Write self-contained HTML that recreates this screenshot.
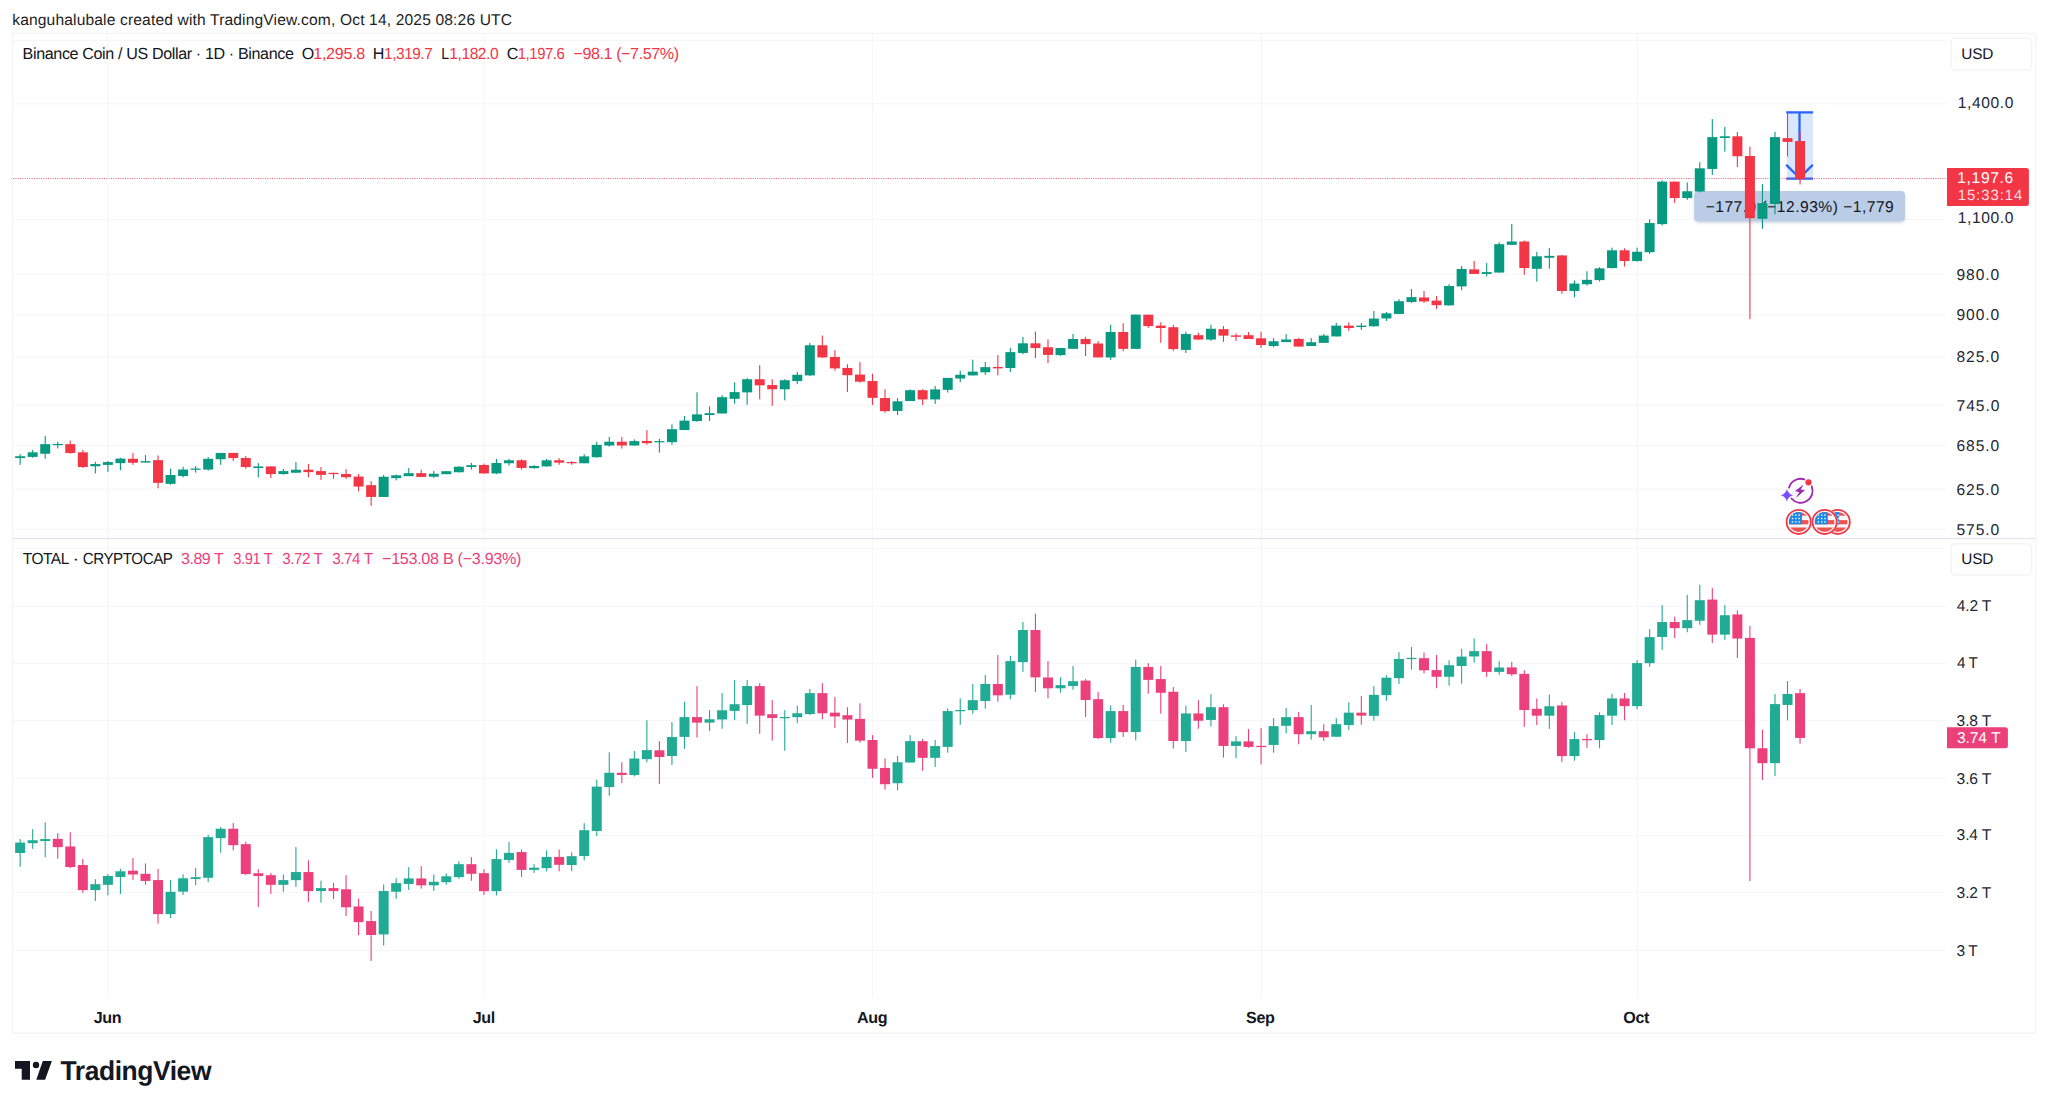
<!DOCTYPE html>
<html><head><meta charset="utf-8"><title>BNBUSD chart</title>
<style>
html,body{margin:0;padding:0;background:#fff;}
body{width:2048px;height:1108px;position:relative;overflow:hidden;font-family:"Liberation Sans",sans-serif;}
svg{position:absolute;left:0;top:0;}
</style></head><body>
<svg width="2048" height="1108" viewBox="0 0 2048 1108">
<rect x="12.4" y="33.4" width="2023.3" height="999.8" fill="#fff" stroke="#f5f5f6" stroke-width="1.5"/>
<rect x="13" y="39.9" width="1933" height="1" fill="#f6f6f7"/>
<rect x="13" y="103.2" width="1933" height="1" fill="#f6f6f7"/>
<rect x="13" y="219.0" width="1933" height="1" fill="#f6f6f7"/>
<rect x="13" y="273.8" width="1933" height="1" fill="#f6f6f7"/>
<rect x="13" y="314.7" width="1933" height="1" fill="#f6f6f7"/>
<rect x="13" y="356.3" width="1933" height="1" fill="#f6f6f7"/>
<rect x="13" y="404.8" width="1933" height="1" fill="#f6f6f7"/>
<rect x="13" y="445.1" width="1933" height="1" fill="#f6f6f7"/>
<rect x="13" y="488.7" width="1933" height="1" fill="#f6f6f7"/>
<rect x="13" y="528.8" width="1933" height="1" fill="#f6f6f7"/>
<rect x="13" y="548.0" width="1933" height="1" fill="#f6f6f7"/>
<rect x="13" y="606.0" width="1933" height="1" fill="#f6f6f7"/>
<rect x="13" y="663.0" width="1933" height="1" fill="#f6f6f7"/>
<rect x="13" y="719.9" width="1933" height="1" fill="#f6f6f7"/>
<rect x="13" y="777.8" width="1933" height="1" fill="#f6f6f7"/>
<rect x="13" y="835.0" width="1933" height="1" fill="#f6f6f7"/>
<rect x="13" y="892.0" width="1933" height="1" fill="#f6f6f7"/>
<rect x="13" y="949.9" width="1933" height="1" fill="#f6f6f7"/>
<rect x="107.0" y="34" width="1" height="504" fill="#f6f6f7"/>
<rect x="483.4" y="34" width="1" height="504" fill="#f6f6f7"/>
<rect x="872.0" y="34" width="1" height="504" fill="#f6f6f7"/>
<rect x="1260.9" y="34" width="1" height="504" fill="#f6f6f7"/>
<rect x="1636.8" y="34" width="1" height="504" fill="#f6f6f7"/>
<rect x="107.0" y="539" width="1" height="459.5" fill="#f6f6f7"/>
<rect x="483.4" y="539" width="1" height="459.5" fill="#f6f6f7"/>
<rect x="872.0" y="539" width="1" height="459.5" fill="#f6f6f7"/>
<rect x="1260.9" y="539" width="1" height="459.5" fill="#f6f6f7"/>
<rect x="1636.8" y="539" width="1" height="459.5" fill="#f6f6f7"/>
<rect x="13" y="537.9" width="2022" height="1.2" fill="#e1e4ee"/>
<defs><filter id="sh" x="-10%" y="-30%" width="120%" height="170%"><feGaussianBlur stdDeviation="1.6"/></filter></defs>
<rect x="1694.6" y="192.4" width="210" height="30" rx="4" fill="#5f7698" fill-opacity="0.35" filter="url(#sh)"/>
<rect x="1694.2" y="190.9" width="210.8" height="30.4" rx="4" fill="#bbcde6"/>
<g font-family="Liberation Sans, sans-serif" text-rendering="geometricPrecision" style="white-space:pre"><text id="meas" x="1705.64" y="212.00" font-size="15.6" letter-spacing="0.494" fill="#131722">−177.9 (−12.93%) −1,779</text></g>
<rect x="1787" y="112" width="26" height="67" fill="#d9e7fc"/><g stroke="#2962ff" stroke-width="2.3" fill="none"><path d="M1786.2 112.3H1813.1M1786.2 178.7H1813.1M1799.5 112.3V178"/><path d="M1786.8 165.4L1799.5 178L1812.2 165.4" stroke-linecap="round" stroke-linejoin="miter"/></g>
<line x1="13" y1="178.5" x2="1947" y2="178.5" stroke="#f23645" stroke-width="1" stroke-opacity="0.8" stroke-dasharray="1 1.333"/>
<g shape-rendering="auto">
<rect x="19.60" y="454.10" width="1.1" height="10.74" fill="#089981"/>
<rect x="15.15" y="456.25" width="10.0" height="1.81" fill="#089981"/>
<rect x="32.13" y="450.00" width="1.1" height="7.81" fill="#089981"/>
<rect x="27.68" y="452.34" width="10.0" height="4.55" fill="#089981"/>
<rect x="44.67" y="435.94" width="1.1" height="22.66" fill="#089981"/>
<rect x="40.22" y="444.14" width="10.0" height="9.62" fill="#089981"/>
<rect x="57.20" y="441.80" width="1.1" height="6.64" fill="#089981"/>
<rect x="52.75" y="443.93" width="10.0" height="1.25" fill="#089981"/>
<rect x="69.74" y="440.62" width="1.1" height="13.09" fill="#f23645"/>
<rect x="65.29" y="444.14" width="10.0" height="8.84" fill="#f23645"/>
<rect x="82.27" y="450.00" width="1.1" height="17.97" fill="#f23645"/>
<rect x="77.82" y="452.34" width="10.0" height="14.70" fill="#f23645"/>
<rect x="94.81" y="461.72" width="1.1" height="11.72" fill="#089981"/>
<rect x="90.36" y="464.06" width="10.0" height="2.20" fill="#089981"/>
<rect x="107.34" y="460.94" width="1.1" height="10.94" fill="#089981"/>
<rect x="102.89" y="462.11" width="10.0" height="2.79" fill="#089981"/>
<rect x="119.88" y="457.81" width="1.1" height="12.50" fill="#089981"/>
<rect x="115.43" y="458.59" width="10.0" height="4.55" fill="#089981"/>
<rect x="132.41" y="453.12" width="1.1" height="11.72" fill="#f23645"/>
<rect x="127.96" y="458.79" width="10.0" height="3.96" fill="#f23645"/>
<rect x="144.94" y="455.08" width="1.1" height="7.48" fill="#089981"/>
<rect x="140.50" y="461.13" width="10.0" height="1.42" fill="#089981"/>
<rect x="157.48" y="455.47" width="1.1" height="32.81" fill="#f23645"/>
<rect x="153.03" y="460.16" width="10.0" height="22.71" fill="#f23645"/>
<rect x="170.01" y="468.75" width="1.1" height="16.02" fill="#089981"/>
<rect x="165.56" y="475.00" width="10.0" height="8.84" fill="#089981"/>
<rect x="182.55" y="466.80" width="1.1" height="10.55" fill="#089981"/>
<rect x="178.10" y="469.53" width="10.0" height="6.50" fill="#089981"/>
<rect x="195.08" y="466.02" width="1.1" height="6.64" fill="#089981"/>
<rect x="190.63" y="468.54" width="10.0" height="1.25" fill="#089981"/>
<rect x="207.62" y="457.03" width="1.1" height="13.67" fill="#089981"/>
<rect x="203.17" y="458.79" width="10.0" height="10.80" fill="#089981"/>
<rect x="220.15" y="452.93" width="1.1" height="11.91" fill="#089981"/>
<rect x="215.70" y="452.93" width="10.0" height="6.30" fill="#089981"/>
<rect x="232.69" y="452.93" width="1.1" height="8.01" fill="#f23645"/>
<rect x="228.24" y="452.93" width="10.0" height="5.13" fill="#f23645"/>
<rect x="245.22" y="456.05" width="1.1" height="12.70" fill="#f23645"/>
<rect x="240.77" y="458.01" width="10.0" height="9.04" fill="#f23645"/>
<rect x="257.76" y="463.09" width="1.1" height="14.26" fill="#089981"/>
<rect x="253.31" y="466.41" width="10.0" height="1.62" fill="#089981"/>
<rect x="270.29" y="466.41" width="1.1" height="11.72" fill="#f23645"/>
<rect x="265.84" y="466.41" width="10.0" height="7.67" fill="#f23645"/>
<rect x="282.82" y="468.95" width="1.1" height="5.66" fill="#089981"/>
<rect x="278.37" y="471.09" width="10.0" height="2.98" fill="#089981"/>
<rect x="295.36" y="462.11" width="1.1" height="10.60" fill="#089981"/>
<rect x="290.91" y="469.73" width="10.0" height="2.98" fill="#089981"/>
<rect x="307.89" y="463.87" width="1.1" height="13.48" fill="#f23645"/>
<rect x="303.44" y="469.73" width="10.0" height="2.40" fill="#f23645"/>
<rect x="320.43" y="466.99" width="1.1" height="12.89" fill="#f23645"/>
<rect x="315.98" y="471.09" width="10.0" height="3.77" fill="#f23645"/>
<rect x="332.96" y="472.66" width="1.1" height="6.25" fill="#f23645"/>
<rect x="328.51" y="472.84" width="10.0" height="1.25" fill="#f23645"/>
<rect x="345.50" y="469.34" width="1.1" height="9.57" fill="#f23645"/>
<rect x="341.05" y="474.02" width="10.0" height="3.18" fill="#f23645"/>
<rect x="358.03" y="474.02" width="1.1" height="17.38" fill="#f23645"/>
<rect x="353.58" y="476.56" width="10.0" height="10.02" fill="#f23645"/>
<rect x="370.57" y="481.05" width="1.1" height="24.80" fill="#f23645"/>
<rect x="366.12" y="485.16" width="10.0" height="11.77" fill="#f23645"/>
<rect x="383.10" y="474.80" width="1.1" height="22.12" fill="#089981"/>
<rect x="378.65" y="476.76" width="10.0" height="20.17" fill="#089981"/>
<rect x="395.63" y="474.53" width="1.1" height="5.86" fill="#089981"/>
<rect x="391.18" y="475.31" width="10.0" height="2.79" fill="#089981"/>
<rect x="408.17" y="468.09" width="1.1" height="8.06" fill="#089981"/>
<rect x="403.72" y="473.16" width="10.0" height="2.98" fill="#089981"/>
<rect x="420.70" y="469.65" width="1.1" height="7.28" fill="#f23645"/>
<rect x="416.25" y="473.16" width="10.0" height="3.77" fill="#f23645"/>
<rect x="433.24" y="471.02" width="1.1" height="6.84" fill="#089981"/>
<rect x="428.79" y="473.75" width="10.0" height="2.98" fill="#089981"/>
<rect x="445.77" y="471.21" width="1.1" height="2.98" fill="#089981"/>
<rect x="441.32" y="471.21" width="10.0" height="2.98" fill="#089981"/>
<rect x="458.31" y="466.13" width="1.1" height="6.25" fill="#089981"/>
<rect x="453.86" y="466.72" width="10.0" height="5.52" fill="#089981"/>
<rect x="470.84" y="462.81" width="1.1" height="6.84" fill="#089981"/>
<rect x="466.39" y="465.16" width="10.0" height="1.81" fill="#089981"/>
<rect x="483.38" y="463.59" width="1.1" height="10.16" fill="#f23645"/>
<rect x="478.93" y="464.96" width="10.0" height="8.45" fill="#f23645"/>
<rect x="495.91" y="458.91" width="1.1" height="15.23" fill="#089981"/>
<rect x="491.46" y="463.01" width="10.0" height="10.41" fill="#089981"/>
<rect x="508.45" y="458.91" width="1.1" height="6.64" fill="#089981"/>
<rect x="504.00" y="460.27" width="10.0" height="2.98" fill="#089981"/>
<rect x="520.98" y="459.30" width="1.1" height="10.35" fill="#f23645"/>
<rect x="516.53" y="460.27" width="10.0" height="7.67" fill="#f23645"/>
<rect x="533.51" y="465.16" width="1.1" height="3.52" fill="#089981"/>
<rect x="529.06" y="465.94" width="10.0" height="2.20" fill="#089981"/>
<rect x="546.05" y="458.91" width="1.1" height="7.81" fill="#089981"/>
<rect x="541.60" y="460.27" width="10.0" height="6.11" fill="#089981"/>
<rect x="558.58" y="458.12" width="1.1" height="6.64" fill="#f23645"/>
<rect x="554.13" y="460.27" width="10.0" height="2.40" fill="#f23645"/>
<rect x="571.12" y="461.25" width="1.1" height="3.52" fill="#f23645"/>
<rect x="566.67" y="462.02" width="10.0" height="1.25" fill="#f23645"/>
<rect x="583.65" y="454.22" width="1.1" height="9.04" fill="#089981"/>
<rect x="579.20" y="456.37" width="10.0" height="6.89" fill="#089981"/>
<rect x="596.19" y="441.72" width="1.1" height="16.02" fill="#089981"/>
<rect x="591.74" y="444.84" width="10.0" height="12.36" fill="#089981"/>
<rect x="608.72" y="437.03" width="1.1" height="9.77" fill="#089981"/>
<rect x="604.27" y="441.72" width="10.0" height="3.77" fill="#089981"/>
<rect x="621.26" y="437.03" width="1.1" height="11.52" fill="#f23645"/>
<rect x="616.81" y="441.72" width="10.0" height="3.77" fill="#f23645"/>
<rect x="633.79" y="439.38" width="1.1" height="6.25" fill="#089981"/>
<rect x="629.34" y="441.13" width="10.0" height="4.35" fill="#089981"/>
<rect x="646.33" y="430.20" width="1.1" height="14.65" fill="#f23645"/>
<rect x="641.88" y="440.94" width="10.0" height="2.20" fill="#f23645"/>
<rect x="658.86" y="438.98" width="1.1" height="13.67" fill="#089981"/>
<rect x="654.41" y="441.12" width="10.0" height="1.25" fill="#089981"/>
<rect x="671.39" y="424.34" width="1.1" height="20.51" fill="#089981"/>
<rect x="666.94" y="429.22" width="10.0" height="12.95" fill="#089981"/>
<rect x="683.93" y="415.94" width="1.1" height="14.12" fill="#089981"/>
<rect x="679.48" y="420.62" width="10.0" height="9.43" fill="#089981"/>
<rect x="696.46" y="392.30" width="1.1" height="29.49" fill="#089981"/>
<rect x="692.01" y="414.38" width="10.0" height="6.70" fill="#089981"/>
<rect x="709.00" y="406.37" width="1.1" height="14.65" fill="#089981"/>
<rect x="704.55" y="413.20" width="10.0" height="1.81" fill="#089981"/>
<rect x="721.53" y="395.23" width="1.1" height="18.22" fill="#089981"/>
<rect x="717.08" y="397.19" width="10.0" height="16.27" fill="#089981"/>
<rect x="734.07" y="382.34" width="1.1" height="21.48" fill="#089981"/>
<rect x="729.62" y="392.11" width="10.0" height="6.70" fill="#089981"/>
<rect x="746.60" y="377.85" width="1.1" height="26.95" fill="#089981"/>
<rect x="742.15" y="379.22" width="10.0" height="13.14" fill="#089981"/>
<rect x="759.14" y="365.16" width="1.1" height="34.18" fill="#f23645"/>
<rect x="754.69" y="379.22" width="10.0" height="6.11" fill="#f23645"/>
<rect x="771.67" y="379.22" width="1.1" height="26.56" fill="#f23645"/>
<rect x="767.22" y="385.08" width="10.0" height="4.16" fill="#f23645"/>
<rect x="784.20" y="379.26" width="1.1" height="21.09" fill="#089981"/>
<rect x="779.75" y="380.23" width="10.0" height="9.04" fill="#089981"/>
<rect x="796.74" y="372.03" width="1.1" height="12.11" fill="#089981"/>
<rect x="792.29" y="374.77" width="10.0" height="6.30" fill="#089981"/>
<rect x="809.27" y="342.93" width="1.1" height="33.20" fill="#089981"/>
<rect x="804.82" y="345.27" width="10.0" height="30.13" fill="#089981"/>
<rect x="821.81" y="335.51" width="1.1" height="22.46" fill="#f23645"/>
<rect x="817.36" y="345.27" width="10.0" height="12.16" fill="#f23645"/>
<rect x="834.34" y="350.16" width="1.1" height="20.51" fill="#f23645"/>
<rect x="829.89" y="356.99" width="10.0" height="11.38" fill="#f23645"/>
<rect x="846.88" y="364.22" width="1.1" height="27.73" fill="#f23645"/>
<rect x="842.43" y="367.93" width="10.0" height="7.28" fill="#f23645"/>
<rect x="859.41" y="362.07" width="1.1" height="20.70" fill="#f23645"/>
<rect x="854.96" y="374.57" width="10.0" height="7.09" fill="#f23645"/>
<rect x="871.95" y="373.79" width="1.1" height="31.25" fill="#f23645"/>
<rect x="867.50" y="381.02" width="10.0" height="16.85" fill="#f23645"/>
<rect x="884.48" y="389.22" width="1.1" height="23.44" fill="#f23645"/>
<rect x="880.03" y="398.01" width="10.0" height="13.14" fill="#f23645"/>
<rect x="897.01" y="398.01" width="1.1" height="16.99" fill="#089981"/>
<rect x="892.56" y="401.33" width="10.0" height="9.62" fill="#089981"/>
<rect x="909.55" y="389.41" width="1.1" height="11.58" fill="#089981"/>
<rect x="905.10" y="390.20" width="10.0" height="10.80" fill="#089981"/>
<rect x="922.08" y="389.22" width="1.1" height="15.82" fill="#f23645"/>
<rect x="917.63" y="390.20" width="10.0" height="9.23" fill="#f23645"/>
<rect x="934.62" y="386.09" width="1.1" height="17.77" fill="#089981"/>
<rect x="930.17" y="389.41" width="10.0" height="10.02" fill="#089981"/>
<rect x="947.15" y="377.89" width="1.1" height="14.65" fill="#089981"/>
<rect x="942.70" y="377.89" width="10.0" height="11.97" fill="#089981"/>
<rect x="959.69" y="370.66" width="1.1" height="11.52" fill="#089981"/>
<rect x="955.24" y="374.77" width="10.0" height="3.77" fill="#089981"/>
<rect x="972.22" y="359.73" width="1.1" height="15.68" fill="#089981"/>
<rect x="967.77" y="371.64" width="10.0" height="3.77" fill="#089981"/>
<rect x="984.76" y="361.88" width="1.1" height="13.09" fill="#089981"/>
<rect x="980.31" y="367.15" width="10.0" height="5.13" fill="#089981"/>
<rect x="997.29" y="355.04" width="1.1" height="20.31" fill="#f23645"/>
<rect x="992.84" y="366.95" width="10.0" height="1.42" fill="#f23645"/>
<rect x="1009.83" y="347.81" width="1.1" height="24.22" fill="#089981"/>
<rect x="1005.38" y="352.11" width="10.0" height="15.88" fill="#089981"/>
<rect x="1022.36" y="336.88" width="1.1" height="17.19" fill="#089981"/>
<rect x="1017.91" y="343.32" width="10.0" height="9.62" fill="#089981"/>
<rect x="1034.89" y="331.60" width="1.1" height="26.56" fill="#f23645"/>
<rect x="1030.44" y="343.32" width="10.0" height="4.74" fill="#f23645"/>
<rect x="1047.43" y="339.41" width="1.1" height="23.63" fill="#f23645"/>
<rect x="1042.98" y="347.23" width="10.0" height="7.67" fill="#f23645"/>
<rect x="1059.96" y="348.01" width="1.1" height="7.81" fill="#089981"/>
<rect x="1055.51" y="348.01" width="10.0" height="7.09" fill="#089981"/>
<rect x="1072.50" y="333.95" width="1.1" height="14.90" fill="#089981"/>
<rect x="1068.05" y="339.02" width="10.0" height="9.82" fill="#089981"/>
<rect x="1085.03" y="336.88" width="1.1" height="19.14" fill="#f23645"/>
<rect x="1080.58" y="339.02" width="10.0" height="5.13" fill="#f23645"/>
<rect x="1097.57" y="341.17" width="1.1" height="16.27" fill="#f23645"/>
<rect x="1093.12" y="343.52" width="10.0" height="13.92" fill="#f23645"/>
<rect x="1110.10" y="324.77" width="1.1" height="35.16" fill="#089981"/>
<rect x="1105.65" y="331.99" width="10.0" height="25.45" fill="#089981"/>
<rect x="1122.64" y="323.20" width="1.1" height="27.93" fill="#f23645"/>
<rect x="1118.19" y="331.99" width="10.0" height="16.85" fill="#f23645"/>
<rect x="1135.17" y="314.61" width="1.1" height="34.23" fill="#089981"/>
<rect x="1130.72" y="314.61" width="10.0" height="34.23" fill="#089981"/>
<rect x="1147.71" y="314.69" width="1.1" height="13.09" fill="#f23645"/>
<rect x="1143.26" y="314.69" width="10.0" height="11.38" fill="#f23645"/>
<rect x="1160.24" y="322.30" width="1.1" height="20.51" fill="#f23645"/>
<rect x="1155.79" y="325.62" width="10.0" height="2.40" fill="#f23645"/>
<rect x="1172.77" y="324.84" width="1.1" height="25.98" fill="#f23645"/>
<rect x="1168.32" y="327.19" width="10.0" height="21.93" fill="#f23645"/>
<rect x="1185.31" y="331.68" width="1.1" height="21.29" fill="#089981"/>
<rect x="1180.86" y="334.02" width="10.0" height="15.88" fill="#089981"/>
<rect x="1197.84" y="332.66" width="1.1" height="7.23" fill="#f23645"/>
<rect x="1193.39" y="335.20" width="10.0" height="4.35" fill="#f23645"/>
<rect x="1210.38" y="324.84" width="1.1" height="16.02" fill="#089981"/>
<rect x="1205.93" y="328.75" width="10.0" height="10.80" fill="#089981"/>
<rect x="1222.91" y="326.02" width="1.1" height="15.82" fill="#f23645"/>
<rect x="1218.46" y="329.14" width="10.0" height="6.50" fill="#f23645"/>
<rect x="1235.45" y="333.44" width="1.1" height="7.42" fill="#f23645"/>
<rect x="1231.00" y="335.39" width="10.0" height="1.42" fill="#f23645"/>
<rect x="1247.98" y="332.07" width="1.1" height="6.89" fill="#f23645"/>
<rect x="1243.53" y="335.20" width="10.0" height="3.77" fill="#f23645"/>
<rect x="1260.52" y="331.68" width="1.1" height="16.21" fill="#f23645"/>
<rect x="1256.07" y="338.32" width="10.0" height="6.70" fill="#f23645"/>
<rect x="1273.05" y="338.12" width="1.1" height="9.18" fill="#089981"/>
<rect x="1268.60" y="341.25" width="10.0" height="4.74" fill="#089981"/>
<rect x="1285.58" y="334.02" width="1.1" height="8.06" fill="#089981"/>
<rect x="1281.13" y="339.49" width="10.0" height="2.59" fill="#089981"/>
<rect x="1298.12" y="338.12" width="1.1" height="8.45" fill="#f23645"/>
<rect x="1293.67" y="338.91" width="10.0" height="7.67" fill="#f23645"/>
<rect x="1310.65" y="338.12" width="1.1" height="8.01" fill="#089981"/>
<rect x="1306.20" y="342.23" width="10.0" height="3.77" fill="#089981"/>
<rect x="1323.19" y="334.02" width="1.1" height="8.84" fill="#089981"/>
<rect x="1318.74" y="335.59" width="10.0" height="7.28" fill="#089981"/>
<rect x="1335.72" y="322.89" width="1.1" height="13.53" fill="#089981"/>
<rect x="1331.27" y="325.62" width="10.0" height="10.80" fill="#089981"/>
<rect x="1348.26" y="322.30" width="1.1" height="8.59" fill="#f23645"/>
<rect x="1343.81" y="325.62" width="10.0" height="2.40" fill="#f23645"/>
<rect x="1360.79" y="322.89" width="1.1" height="7.03" fill="#089981"/>
<rect x="1356.34" y="325.62" width="10.0" height="1.42" fill="#089981"/>
<rect x="1373.33" y="310.98" width="1.1" height="15.82" fill="#089981"/>
<rect x="1368.88" y="318.59" width="10.0" height="7.67" fill="#089981"/>
<rect x="1385.86" y="311.95" width="1.1" height="8.98" fill="#089981"/>
<rect x="1381.41" y="313.32" width="10.0" height="5.13" fill="#089981"/>
<rect x="1398.39" y="299.06" width="1.1" height="14.90" fill="#089981"/>
<rect x="1393.94" y="301.21" width="10.0" height="12.75" fill="#089981"/>
<rect x="1410.93" y="289.10" width="1.1" height="13.67" fill="#089981"/>
<rect x="1406.48" y="297.11" width="10.0" height="4.94" fill="#089981"/>
<rect x="1423.46" y="291.05" width="1.1" height="11.72" fill="#f23645"/>
<rect x="1419.01" y="297.50" width="10.0" height="3.96" fill="#f23645"/>
<rect x="1436.00" y="295.94" width="1.1" height="13.09" fill="#f23645"/>
<rect x="1431.55" y="300.62" width="10.0" height="4.55" fill="#f23645"/>
<rect x="1448.53" y="284.22" width="1.1" height="21.48" fill="#089981"/>
<rect x="1444.08" y="285.98" width="10.0" height="19.39" fill="#089981"/>
<rect x="1461.07" y="266.05" width="1.1" height="24.22" fill="#089981"/>
<rect x="1456.62" y="268.98" width="10.0" height="17.44" fill="#089981"/>
<rect x="1473.60" y="260.98" width="1.1" height="12.95" fill="#f23645"/>
<rect x="1469.15" y="269.38" width="10.0" height="4.55" fill="#f23645"/>
<rect x="1486.14" y="262.93" width="1.1" height="13.48" fill="#089981"/>
<rect x="1481.69" y="272.11" width="10.0" height="1.81" fill="#089981"/>
<rect x="1498.67" y="242.23" width="1.1" height="30.33" fill="#089981"/>
<rect x="1494.22" y="244.18" width="10.0" height="28.38" fill="#089981"/>
<rect x="1511.21" y="224.08" width="1.1" height="20.76" fill="#089981"/>
<rect x="1506.76" y="241.51" width="10.0" height="3.33" fill="#089981"/>
<rect x="1523.74" y="240.48" width="1.1" height="34.25" fill="#f23645"/>
<rect x="1519.29" y="241.51" width="10.0" height="26.50" fill="#f23645"/>
<rect x="1536.27" y="251.76" width="1.1" height="29.94" fill="#089981"/>
<rect x="1531.82" y="256.28" width="10.0" height="12.56" fill="#089981"/>
<rect x="1548.81" y="248.07" width="1.1" height="20.71" fill="#089981"/>
<rect x="1544.36" y="255.87" width="10.0" height="1.89" fill="#089981"/>
<rect x="1561.34" y="254.84" width="1.1" height="38.97" fill="#f23645"/>
<rect x="1556.89" y="255.46" width="10.0" height="35.52" fill="#f23645"/>
<rect x="1573.88" y="280.48" width="1.1" height="16.82" fill="#089981"/>
<rect x="1569.43" y="283.55" width="10.0" height="7.43" fill="#089981"/>
<rect x="1586.41" y="271.25" width="1.1" height="14.36" fill="#089981"/>
<rect x="1581.96" y="279.86" width="10.0" height="4.35" fill="#089981"/>
<rect x="1598.95" y="267.15" width="1.1" height="14.36" fill="#089981"/>
<rect x="1594.50" y="268.38" width="10.0" height="11.73" fill="#089981"/>
<rect x="1611.48" y="247.66" width="1.1" height="20.92" fill="#089981"/>
<rect x="1607.03" y="250.33" width="10.0" height="17.68" fill="#089981"/>
<rect x="1624.02" y="248.28" width="1.1" height="18.25" fill="#f23645"/>
<rect x="1619.57" y="250.33" width="10.0" height="10.71" fill="#f23645"/>
<rect x="1636.55" y="247.66" width="1.1" height="13.95" fill="#089981"/>
<rect x="1632.10" y="251.76" width="10.0" height="9.27" fill="#089981"/>
<rect x="1649.09" y="219.36" width="1.1" height="34.45" fill="#089981"/>
<rect x="1644.63" y="223.05" width="10.0" height="29.17" fill="#089981"/>
<rect x="1661.62" y="180.39" width="1.1" height="45.12" fill="#089981"/>
<rect x="1657.17" y="181.62" width="10.0" height="42.50" fill="#089981"/>
<rect x="1674.15" y="181.62" width="1.1" height="21.33" fill="#f23645"/>
<rect x="1669.70" y="181.62" width="10.0" height="16.45" fill="#f23645"/>
<rect x="1686.69" y="182.44" width="1.1" height="17.43" fill="#089981"/>
<rect x="1682.24" y="191.26" width="10.0" height="6.81" fill="#089981"/>
<rect x="1699.22" y="162.14" width="1.1" height="30.15" fill="#089981"/>
<rect x="1694.77" y="168.29" width="10.0" height="23.22" fill="#089981"/>
<rect x="1711.76" y="119.07" width="1.1" height="55.78" fill="#089981"/>
<rect x="1707.31" y="137.12" width="10.0" height="31.83" fill="#089981"/>
<rect x="1724.29" y="126.87" width="1.1" height="24.82" fill="#089981"/>
<rect x="1719.84" y="136.30" width="10.0" height="1.69" fill="#089981"/>
<rect x="1736.83" y="131.99" width="1.1" height="35.07" fill="#f23645"/>
<rect x="1732.38" y="136.30" width="10.0" height="19.94" fill="#f23645"/>
<rect x="1749.36" y="146.55" width="1.1" height="172.48" fill="#f23645"/>
<rect x="1744.91" y="155.99" width="10.0" height="62.19" fill="#f23645"/>
<rect x="1761.90" y="184.09" width="1.1" height="44.71" fill="#089981"/>
<rect x="1757.45" y="203.16" width="10.0" height="15.63" fill="#089981"/>
<rect x="1774.43" y="131.79" width="1.1" height="82.65" fill="#089981"/>
<rect x="1769.98" y="137.12" width="10.0" height="66.90" fill="#089981"/>
<rect x="1786.96" y="112.31" width="1.1" height="44.09" fill="#f23645"/>
<rect x="1782.51" y="138.15" width="10.0" height="3.74" fill="#f23645"/>
<rect x="1799.50" y="132.20" width="1.1" height="52.30" fill="#f23645"/>
<rect x="1795.05" y="141.02" width="10.0" height="38.19" fill="#f23645"/>
</g>
<g>
<rect x="19.60" y="839.06" width="1.1" height="27.73" fill="#22ab94"/>
<rect x="15.15" y="842.58" width="10.0" height="10.41" fill="#22ab94"/>
<rect x="32.13" y="829.10" width="1.1" height="19.73" fill="#22ab94"/>
<rect x="27.68" y="840.23" width="10.0" height="2.98" fill="#22ab94"/>
<rect x="44.67" y="822.27" width="1.1" height="34.96" fill="#22ab94"/>
<rect x="40.22" y="839.06" width="10.0" height="2.01" fill="#22ab94"/>
<rect x="57.20" y="833.20" width="1.1" height="25.39" fill="#ec407a"/>
<rect x="52.75" y="838.87" width="10.0" height="8.26" fill="#ec407a"/>
<rect x="69.74" y="832.23" width="1.1" height="35.74" fill="#ec407a"/>
<rect x="65.29" y="846.48" width="10.0" height="20.56" fill="#ec407a"/>
<rect x="82.27" y="858.98" width="1.1" height="33.79" fill="#ec407a"/>
<rect x="77.82" y="865.04" width="10.0" height="25.05" fill="#ec407a"/>
<rect x="94.81" y="879.10" width="1.1" height="21.88" fill="#22ab94"/>
<rect x="90.36" y="884.18" width="10.0" height="5.91" fill="#22ab94"/>
<rect x="107.34" y="873.83" width="1.1" height="21.48" fill="#22ab94"/>
<rect x="102.89" y="875.98" width="10.0" height="8.84" fill="#22ab94"/>
<rect x="119.88" y="868.75" width="1.1" height="25.20" fill="#22ab94"/>
<rect x="115.43" y="871.29" width="10.0" height="5.72" fill="#22ab94"/>
<rect x="132.41" y="858.01" width="1.1" height="21.88" fill="#ec407a"/>
<rect x="127.96" y="870.70" width="10.0" height="3.77" fill="#ec407a"/>
<rect x="144.94" y="863.48" width="1.1" height="21.29" fill="#ec407a"/>
<rect x="140.50" y="873.83" width="10.0" height="7.09" fill="#ec407a"/>
<rect x="157.48" y="868.95" width="1.1" height="54.69" fill="#ec407a"/>
<rect x="153.03" y="880.08" width="10.0" height="34.04" fill="#ec407a"/>
<rect x="170.01" y="880.08" width="1.1" height="37.89" fill="#22ab94"/>
<rect x="165.56" y="891.80" width="10.0" height="22.32" fill="#22ab94"/>
<rect x="182.55" y="874.22" width="1.1" height="20.70" fill="#22ab94"/>
<rect x="178.10" y="878.32" width="10.0" height="13.34" fill="#22ab94"/>
<rect x="195.08" y="868.16" width="1.1" height="17.19" fill="#22ab94"/>
<rect x="190.63" y="877.15" width="10.0" height="1.81" fill="#22ab94"/>
<rect x="207.62" y="834.77" width="1.1" height="47.46" fill="#22ab94"/>
<rect x="203.17" y="837.11" width="10.0" height="40.68" fill="#22ab94"/>
<rect x="220.15" y="826.95" width="1.1" height="25.78" fill="#22ab94"/>
<rect x="215.70" y="828.71" width="10.0" height="9.43" fill="#22ab94"/>
<rect x="232.69" y="823.05" width="1.1" height="27.34" fill="#ec407a"/>
<rect x="228.24" y="828.71" width="10.0" height="16.46" fill="#ec407a"/>
<rect x="245.22" y="841.60" width="1.1" height="33.40" fill="#ec407a"/>
<rect x="240.77" y="844.14" width="10.0" height="29.94" fill="#ec407a"/>
<rect x="257.76" y="869.14" width="1.1" height="37.89" fill="#ec407a"/>
<rect x="253.31" y="873.24" width="10.0" height="2.79" fill="#ec407a"/>
<rect x="270.29" y="873.05" width="1.1" height="20.90" fill="#ec407a"/>
<rect x="265.84" y="875.20" width="10.0" height="9.62" fill="#ec407a"/>
<rect x="282.82" y="874.41" width="1.1" height="17.38" fill="#22ab94"/>
<rect x="278.37" y="880.08" width="10.0" height="4.74" fill="#22ab94"/>
<rect x="295.36" y="847.07" width="1.1" height="39.84" fill="#22ab94"/>
<rect x="290.91" y="872.07" width="10.0" height="8.06" fill="#22ab94"/>
<rect x="307.89" y="860.35" width="1.1" height="41.60" fill="#ec407a"/>
<rect x="303.44" y="872.07" width="10.0" height="19.00" fill="#ec407a"/>
<rect x="320.43" y="880.66" width="1.1" height="22.07" fill="#22ab94"/>
<rect x="315.98" y="888.09" width="10.0" height="2.98" fill="#22ab94"/>
<rect x="332.96" y="883.01" width="1.1" height="16.02" fill="#ec407a"/>
<rect x="328.51" y="888.09" width="10.0" height="2.98" fill="#ec407a"/>
<rect x="345.50" y="875.20" width="1.1" height="40.82" fill="#ec407a"/>
<rect x="341.05" y="889.26" width="10.0" height="18.02" fill="#ec407a"/>
<rect x="358.03" y="898.63" width="1.1" height="36.52" fill="#ec407a"/>
<rect x="353.58" y="906.45" width="10.0" height="15.68" fill="#ec407a"/>
<rect x="370.57" y="910.94" width="1.1" height="50.00" fill="#ec407a"/>
<rect x="366.12" y="921.09" width="10.0" height="13.92" fill="#ec407a"/>
<rect x="383.10" y="884.38" width="1.1" height="61.13" fill="#22ab94"/>
<rect x="378.65" y="891.02" width="10.0" height="43.41" fill="#22ab94"/>
<rect x="395.63" y="878.24" width="1.1" height="20.51" fill="#22ab94"/>
<rect x="391.18" y="883.12" width="10.0" height="8.65" fill="#22ab94"/>
<rect x="408.17" y="867.11" width="1.1" height="22.85" fill="#22ab94"/>
<rect x="403.72" y="878.44" width="10.0" height="5.52" fill="#22ab94"/>
<rect x="420.70" y="866.13" width="1.1" height="22.46" fill="#ec407a"/>
<rect x="416.25" y="878.44" width="10.0" height="6.89" fill="#ec407a"/>
<rect x="433.24" y="874.34" width="1.1" height="16.60" fill="#22ab94"/>
<rect x="428.79" y="881.76" width="10.0" height="3.57" fill="#22ab94"/>
<rect x="445.77" y="873.36" width="1.1" height="11.33" fill="#22ab94"/>
<rect x="441.32" y="876.29" width="10.0" height="5.91" fill="#22ab94"/>
<rect x="458.31" y="861.25" width="1.1" height="17.58" fill="#22ab94"/>
<rect x="453.86" y="864.18" width="10.0" height="12.95" fill="#22ab94"/>
<rect x="470.84" y="857.15" width="1.1" height="23.63" fill="#ec407a"/>
<rect x="466.39" y="864.18" width="10.0" height="9.62" fill="#ec407a"/>
<rect x="483.38" y="869.06" width="1.1" height="25.78" fill="#ec407a"/>
<rect x="478.93" y="873.16" width="10.0" height="18.02" fill="#ec407a"/>
<rect x="495.91" y="849.34" width="1.1" height="46.09" fill="#22ab94"/>
<rect x="491.46" y="859.10" width="10.0" height="32.09" fill="#22ab94"/>
<rect x="508.45" y="841.91" width="1.1" height="20.90" fill="#22ab94"/>
<rect x="504.00" y="852.85" width="10.0" height="7.09" fill="#22ab94"/>
<rect x="520.98" y="849.53" width="1.1" height="27.34" fill="#ec407a"/>
<rect x="516.53" y="852.07" width="10.0" height="17.83" fill="#ec407a"/>
<rect x="533.51" y="864.18" width="1.1" height="8.79" fill="#22ab94"/>
<rect x="529.06" y="867.70" width="10.0" height="2.20" fill="#22ab94"/>
<rect x="546.05" y="850.31" width="1.1" height="21.09" fill="#22ab94"/>
<rect x="541.60" y="856.95" width="10.0" height="11.19" fill="#22ab94"/>
<rect x="558.58" y="849.53" width="1.1" height="21.88" fill="#ec407a"/>
<rect x="554.13" y="856.95" width="10.0" height="7.87" fill="#ec407a"/>
<rect x="571.12" y="852.27" width="1.1" height="18.95" fill="#22ab94"/>
<rect x="566.67" y="856.17" width="10.0" height="8.84" fill="#22ab94"/>
<rect x="583.65" y="823.16" width="1.1" height="37.30" fill="#22ab94"/>
<rect x="579.20" y="830.20" width="10.0" height="25.84" fill="#22ab94"/>
<rect x="596.19" y="779.61" width="1.1" height="56.45" fill="#22ab94"/>
<rect x="591.74" y="786.64" width="10.0" height="44.39" fill="#22ab94"/>
<rect x="608.72" y="752.27" width="1.1" height="43.55" fill="#22ab94"/>
<rect x="604.27" y="772.77" width="10.0" height="14.31" fill="#22ab94"/>
<rect x="621.26" y="762.23" width="1.1" height="20.90" fill="#ec407a"/>
<rect x="616.81" y="772.77" width="10.0" height="2.20" fill="#ec407a"/>
<rect x="633.79" y="750.90" width="1.1" height="25.59" fill="#22ab94"/>
<rect x="629.34" y="758.52" width="10.0" height="16.46" fill="#22ab94"/>
<rect x="646.33" y="720.23" width="1.1" height="42.19" fill="#22ab94"/>
<rect x="641.88" y="750.12" width="10.0" height="9.04" fill="#22ab94"/>
<rect x="658.86" y="741.13" width="1.1" height="42.77" fill="#ec407a"/>
<rect x="654.41" y="750.31" width="10.0" height="6.70" fill="#ec407a"/>
<rect x="671.39" y="721.99" width="1.1" height="42.97" fill="#22ab94"/>
<rect x="666.94" y="737.03" width="10.0" height="19.00" fill="#22ab94"/>
<rect x="683.93" y="701.68" width="1.1" height="47.27" fill="#22ab94"/>
<rect x="679.48" y="717.11" width="10.0" height="19.78" fill="#22ab94"/>
<rect x="696.46" y="686.05" width="1.1" height="51.56" fill="#ec407a"/>
<rect x="692.01" y="717.11" width="10.0" height="5.52" fill="#ec407a"/>
<rect x="709.00" y="710.08" width="1.1" height="20.90" fill="#22ab94"/>
<rect x="704.55" y="719.26" width="10.0" height="3.38" fill="#22ab94"/>
<rect x="721.53" y="693.09" width="1.1" height="35.74" fill="#22ab94"/>
<rect x="717.08" y="710.27" width="10.0" height="9.23" fill="#22ab94"/>
<rect x="734.07" y="680.00" width="1.1" height="40.04" fill="#22ab94"/>
<rect x="729.62" y="704.22" width="10.0" height="6.70" fill="#22ab94"/>
<rect x="746.60" y="680.00" width="1.1" height="43.95" fill="#22ab94"/>
<rect x="742.15" y="686.05" width="10.0" height="19.00" fill="#22ab94"/>
<rect x="759.14" y="683.16" width="1.1" height="50.59" fill="#ec407a"/>
<rect x="754.69" y="686.09" width="10.0" height="29.55" fill="#ec407a"/>
<rect x="771.67" y="699.96" width="1.1" height="40.62" fill="#ec407a"/>
<rect x="767.22" y="714.22" width="10.0" height="3.77" fill="#ec407a"/>
<rect x="784.20" y="710.12" width="1.1" height="40.62" fill="#22ab94"/>
<rect x="779.75" y="717.04" width="10.0" height="1.25" fill="#22ab94"/>
<rect x="796.74" y="705.62" width="1.1" height="17.58" fill="#22ab94"/>
<rect x="792.29" y="713.24" width="10.0" height="3.96" fill="#22ab94"/>
<rect x="809.27" y="689.02" width="1.1" height="25.98" fill="#22ab94"/>
<rect x="804.82" y="693.12" width="10.0" height="20.95" fill="#22ab94"/>
<rect x="821.81" y="683.16" width="1.1" height="36.33" fill="#ec407a"/>
<rect x="817.36" y="693.12" width="10.0" height="20.17" fill="#ec407a"/>
<rect x="834.34" y="697.03" width="1.1" height="30.86" fill="#ec407a"/>
<rect x="829.89" y="712.66" width="10.0" height="3.77" fill="#ec407a"/>
<rect x="846.88" y="707.19" width="1.1" height="35.74" fill="#ec407a"/>
<rect x="842.43" y="715.20" width="10.0" height="4.35" fill="#ec407a"/>
<rect x="859.41" y="703.28" width="1.1" height="39.45" fill="#ec407a"/>
<rect x="854.96" y="718.91" width="10.0" height="21.73" fill="#ec407a"/>
<rect x="871.95" y="735.12" width="1.1" height="42.77" fill="#ec407a"/>
<rect x="867.50" y="740.00" width="10.0" height="28.77" fill="#ec407a"/>
<rect x="884.48" y="758.36" width="1.1" height="31.25" fill="#ec407a"/>
<rect x="880.03" y="767.93" width="10.0" height="16.27" fill="#ec407a"/>
<rect x="897.01" y="756.02" width="1.1" height="34.38" fill="#22ab94"/>
<rect x="892.56" y="762.27" width="10.0" height="20.95" fill="#22ab94"/>
<rect x="909.55" y="735.12" width="1.1" height="27.54" fill="#22ab94"/>
<rect x="905.10" y="741.17" width="10.0" height="21.34" fill="#22ab94"/>
<rect x="922.08" y="739.02" width="1.1" height="31.84" fill="#ec407a"/>
<rect x="917.63" y="741.17" width="10.0" height="16.66" fill="#ec407a"/>
<rect x="934.62" y="740.00" width="1.1" height="26.95" fill="#22ab94"/>
<rect x="930.17" y="746.05" width="10.0" height="11.77" fill="#22ab94"/>
<rect x="947.15" y="708.36" width="1.1" height="44.34" fill="#22ab94"/>
<rect x="942.70" y="711.09" width="10.0" height="35.80" fill="#22ab94"/>
<rect x="959.69" y="698.40" width="1.1" height="26.37" fill="#22ab94"/>
<rect x="955.24" y="710.01" width="10.0" height="1.25" fill="#22ab94"/>
<rect x="972.22" y="683.95" width="1.1" height="29.88" fill="#22ab94"/>
<rect x="967.77" y="700.16" width="10.0" height="10.02" fill="#22ab94"/>
<rect x="984.76" y="674.96" width="1.1" height="33.59" fill="#22ab94"/>
<rect x="980.31" y="683.95" width="10.0" height="17.05" fill="#22ab94"/>
<rect x="997.29" y="655.04" width="1.1" height="46.68" fill="#ec407a"/>
<rect x="992.84" y="683.95" width="10.0" height="11.38" fill="#ec407a"/>
<rect x="1009.83" y="655.82" width="1.1" height="43.36" fill="#22ab94"/>
<rect x="1005.38" y="661.09" width="10.0" height="33.65" fill="#22ab94"/>
<rect x="1022.36" y="622.03" width="1.1" height="49.80" fill="#22ab94"/>
<rect x="1017.91" y="630.04" width="10.0" height="32.09" fill="#22ab94"/>
<rect x="1034.89" y="613.63" width="1.1" height="78.32" fill="#ec407a"/>
<rect x="1030.44" y="630.04" width="10.0" height="47.32" fill="#ec407a"/>
<rect x="1047.43" y="661.09" width="1.1" height="37.30" fill="#ec407a"/>
<rect x="1042.98" y="677.50" width="10.0" height="10.80" fill="#ec407a"/>
<rect x="1059.96" y="677.30" width="1.1" height="15.43" fill="#22ab94"/>
<rect x="1055.51" y="685.12" width="10.0" height="3.18" fill="#22ab94"/>
<rect x="1072.50" y="665.98" width="1.1" height="23.83" fill="#22ab94"/>
<rect x="1068.05" y="681.21" width="10.0" height="4.74" fill="#22ab94"/>
<rect x="1085.03" y="679.06" width="1.1" height="37.89" fill="#ec407a"/>
<rect x="1080.58" y="680.62" width="10.0" height="19.39" fill="#ec407a"/>
<rect x="1097.57" y="692.15" width="1.1" height="46.88" fill="#ec407a"/>
<rect x="1093.12" y="699.18" width="10.0" height="38.92" fill="#ec407a"/>
<rect x="1110.10" y="705.43" width="1.1" height="37.30" fill="#22ab94"/>
<rect x="1105.65" y="711.09" width="10.0" height="27.01" fill="#22ab94"/>
<rect x="1122.64" y="704.84" width="1.1" height="32.03" fill="#ec407a"/>
<rect x="1118.19" y="711.09" width="10.0" height="20.95" fill="#ec407a"/>
<rect x="1135.17" y="659.53" width="1.1" height="80.86" fill="#22ab94"/>
<rect x="1130.72" y="666.95" width="10.0" height="65.09" fill="#22ab94"/>
<rect x="1147.71" y="663.24" width="1.1" height="30.47" fill="#ec407a"/>
<rect x="1143.26" y="666.95" width="10.0" height="12.95" fill="#ec407a"/>
<rect x="1160.24" y="665.98" width="1.1" height="47.66" fill="#ec407a"/>
<rect x="1155.79" y="679.06" width="10.0" height="13.73" fill="#ec407a"/>
<rect x="1172.77" y="687.07" width="1.1" height="61.52" fill="#ec407a"/>
<rect x="1168.32" y="691.76" width="10.0" height="49.27" fill="#ec407a"/>
<rect x="1185.31" y="705.62" width="1.1" height="46.29" fill="#22ab94"/>
<rect x="1180.86" y="713.44" width="10.0" height="27.59" fill="#22ab94"/>
<rect x="1197.84" y="700.16" width="1.1" height="28.52" fill="#ec407a"/>
<rect x="1193.39" y="713.44" width="10.0" height="7.28" fill="#ec407a"/>
<rect x="1210.38" y="694.10" width="1.1" height="32.42" fill="#22ab94"/>
<rect x="1205.93" y="707.19" width="10.0" height="12.75" fill="#22ab94"/>
<rect x="1222.91" y="704.26" width="1.1" height="53.32" fill="#ec407a"/>
<rect x="1218.46" y="707.19" width="10.0" height="38.73" fill="#ec407a"/>
<rect x="1235.45" y="736.09" width="1.1" height="22.07" fill="#22ab94"/>
<rect x="1231.00" y="741.37" width="10.0" height="4.55" fill="#22ab94"/>
<rect x="1247.98" y="729.06" width="1.1" height="18.75" fill="#ec407a"/>
<rect x="1243.53" y="741.37" width="10.0" height="5.52" fill="#ec407a"/>
<rect x="1260.52" y="728.09" width="1.1" height="36.33" fill="#ec407a"/>
<rect x="1256.07" y="745.85" width="10.0" height="1.25" fill="#ec407a"/>
<rect x="1273.05" y="718.12" width="1.1" height="34.57" fill="#22ab94"/>
<rect x="1268.60" y="726.13" width="10.0" height="18.80" fill="#22ab94"/>
<rect x="1285.58" y="707.97" width="1.1" height="25.39" fill="#22ab94"/>
<rect x="1281.13" y="717.15" width="10.0" height="8.65" fill="#22ab94"/>
<rect x="1298.12" y="712.07" width="1.1" height="32.23" fill="#ec407a"/>
<rect x="1293.67" y="717.15" width="10.0" height="17.05" fill="#ec407a"/>
<rect x="1310.65" y="705.04" width="1.1" height="34.57" fill="#22ab94"/>
<rect x="1306.20" y="731.21" width="10.0" height="2.98" fill="#22ab94"/>
<rect x="1323.19" y="724.18" width="1.1" height="16.80" fill="#ec407a"/>
<rect x="1318.74" y="731.21" width="10.0" height="6.11" fill="#ec407a"/>
<rect x="1335.72" y="718.12" width="1.1" height="18.61" fill="#22ab94"/>
<rect x="1331.27" y="724.18" width="10.0" height="12.55" fill="#22ab94"/>
<rect x="1348.26" y="702.30" width="1.1" height="27.93" fill="#22ab94"/>
<rect x="1343.81" y="712.66" width="10.0" height="12.36" fill="#22ab94"/>
<rect x="1360.79" y="696.05" width="1.1" height="28.71" fill="#ec407a"/>
<rect x="1356.34" y="712.66" width="10.0" height="2.98" fill="#ec407a"/>
<rect x="1373.33" y="686.09" width="1.1" height="34.57" fill="#22ab94"/>
<rect x="1368.88" y="694.88" width="10.0" height="20.95" fill="#22ab94"/>
<rect x="1385.86" y="675.16" width="1.1" height="25.59" fill="#22ab94"/>
<rect x="1381.41" y="677.70" width="10.0" height="17.44" fill="#22ab94"/>
<rect x="1398.39" y="652.11" width="1.1" height="32.03" fill="#22ab94"/>
<rect x="1393.94" y="658.95" width="10.0" height="19.20" fill="#22ab94"/>
<rect x="1410.93" y="647.03" width="1.1" height="22.66" fill="#22ab94"/>
<rect x="1406.48" y="657.86" width="10.0" height="1.25" fill="#22ab94"/>
<rect x="1423.46" y="652.50" width="1.1" height="20.90" fill="#ec407a"/>
<rect x="1419.01" y="658.16" width="10.0" height="12.16" fill="#ec407a"/>
<rect x="1436.00" y="655.04" width="1.1" height="33.20" fill="#ec407a"/>
<rect x="1431.55" y="670.08" width="10.0" height="6.70" fill="#ec407a"/>
<rect x="1448.53" y="660.31" width="1.1" height="25.39" fill="#22ab94"/>
<rect x="1444.08" y="665.20" width="10.0" height="11.58" fill="#22ab94"/>
<rect x="1461.07" y="648.79" width="1.1" height="34.96" fill="#22ab94"/>
<rect x="1456.62" y="656.60" width="10.0" height="9.43" fill="#22ab94"/>
<rect x="1473.60" y="638.44" width="1.1" height="24.22" fill="#22ab94"/>
<rect x="1469.15" y="651.13" width="10.0" height="5.33" fill="#22ab94"/>
<rect x="1486.14" y="644.10" width="1.1" height="33.01" fill="#ec407a"/>
<rect x="1481.69" y="651.13" width="10.0" height="20.76" fill="#ec407a"/>
<rect x="1498.67" y="661.09" width="1.1" height="13.67" fill="#22ab94"/>
<rect x="1494.22" y="667.54" width="10.0" height="4.35" fill="#22ab94"/>
<rect x="1511.21" y="661.91" width="1.1" height="14.06" fill="#ec407a"/>
<rect x="1506.76" y="667.38" width="10.0" height="6.89" fill="#ec407a"/>
<rect x="1523.74" y="670.31" width="1.1" height="56.45" fill="#ec407a"/>
<rect x="1519.29" y="673.83" width="10.0" height="36.19" fill="#ec407a"/>
<rect x="1536.27" y="698.44" width="1.1" height="26.56" fill="#ec407a"/>
<rect x="1531.82" y="708.79" width="10.0" height="6.89" fill="#ec407a"/>
<rect x="1548.81" y="694.53" width="1.1" height="34.38" fill="#22ab94"/>
<rect x="1544.36" y="706.25" width="10.0" height="9.43" fill="#22ab94"/>
<rect x="1561.34" y="702.15" width="1.1" height="59.77" fill="#ec407a"/>
<rect x="1556.89" y="705.47" width="10.0" height="50.64" fill="#ec407a"/>
<rect x="1573.88" y="732.03" width="1.1" height="28.71" fill="#22ab94"/>
<rect x="1569.43" y="739.06" width="10.0" height="17.05" fill="#22ab94"/>
<rect x="1586.41" y="734.18" width="1.1" height="13.67" fill="#ec407a"/>
<rect x="1581.96" y="738.95" width="10.0" height="1.25" fill="#ec407a"/>
<rect x="1598.95" y="712.30" width="1.1" height="35.94" fill="#22ab94"/>
<rect x="1594.50" y="715.04" width="10.0" height="25.05" fill="#22ab94"/>
<rect x="1611.48" y="693.75" width="1.1" height="31.25" fill="#22ab94"/>
<rect x="1607.03" y="698.44" width="10.0" height="17.24" fill="#22ab94"/>
<rect x="1624.02" y="692.97" width="1.1" height="27.34" fill="#ec407a"/>
<rect x="1619.57" y="698.44" width="10.0" height="7.67" fill="#ec407a"/>
<rect x="1636.55" y="660.16" width="1.1" height="49.22" fill="#22ab94"/>
<rect x="1632.10" y="663.09" width="10.0" height="43.02" fill="#22ab94"/>
<rect x="1649.09" y="629.10" width="1.1" height="37.50" fill="#22ab94"/>
<rect x="1644.63" y="637.11" width="10.0" height="26.03" fill="#22ab94"/>
<rect x="1661.62" y="605.08" width="1.1" height="44.92" fill="#22ab94"/>
<rect x="1657.17" y="622.07" width="10.0" height="14.90" fill="#22ab94"/>
<rect x="1674.15" y="616.60" width="1.1" height="21.48" fill="#ec407a"/>
<rect x="1669.70" y="622.07" width="10.0" height="6.11" fill="#ec407a"/>
<rect x="1686.69" y="594.92" width="1.1" height="37.30" fill="#22ab94"/>
<rect x="1682.24" y="620.12" width="10.0" height="8.06" fill="#22ab94"/>
<rect x="1699.22" y="584.77" width="1.1" height="40.04" fill="#22ab94"/>
<rect x="1694.77" y="600.20" width="10.0" height="20.56" fill="#22ab94"/>
<rect x="1711.76" y="588.09" width="1.1" height="54.88" fill="#ec407a"/>
<rect x="1707.31" y="599.61" width="10.0" height="35.02" fill="#ec407a"/>
<rect x="1724.29" y="605.08" width="1.1" height="34.77" fill="#22ab94"/>
<rect x="1719.84" y="615.23" width="10.0" height="19.39" fill="#22ab94"/>
<rect x="1736.83" y="610.35" width="1.1" height="47.66" fill="#ec407a"/>
<rect x="1732.38" y="614.45" width="10.0" height="24.08" fill="#ec407a"/>
<rect x="1749.36" y="625.98" width="1.1" height="255.08" fill="#ec407a"/>
<rect x="1744.91" y="637.89" width="10.0" height="110.41" fill="#ec407a"/>
<rect x="1761.90" y="729.69" width="1.1" height="50.39" fill="#ec407a"/>
<rect x="1757.45" y="748.24" width="10.0" height="14.90" fill="#ec407a"/>
<rect x="1774.43" y="693.95" width="1.1" height="82.23" fill="#22ab94"/>
<rect x="1769.98" y="704.10" width="10.0" height="59.04" fill="#22ab94"/>
<rect x="1786.96" y="681.05" width="1.1" height="39.26" fill="#22ab94"/>
<rect x="1782.51" y="693.95" width="10.0" height="10.99" fill="#22ab94"/>
<rect x="1799.50" y="689.06" width="1.1" height="54.69" fill="#ec407a"/>
<rect x="1795.05" y="693.16" width="10.0" height="44.78" fill="#ec407a"/>
</g>
<g><circle cx="1837.7" cy="521.9" r="12.9" fill="#fff"/><clipPath id="f3"><circle cx="1837.7" cy="521.9" r="10.0"/></clipPath><g clip-path="url(#f3)"><rect x="1827.7" y="511.9" width="20.0" height="20.0" fill="#f5f7fa"/><rect x="1827.7" y="511.9" width="20.0" height="3.8" fill="#ef5350"/><rect x="1827.7" y="520.1" width="20.0" height="4.200000000000001" fill="#ef5350"/><rect x="1827.7" y="527.5" width="20.0" height="4.700000000000001" fill="#ef5350"/><rect x="1827.7" y="511.9" width="11.4" height="12.4" fill="#1e88e5"/><rect x="1830.8" y="514.4" width="1.4" height="1.4" fill="#fff"/><rect x="1834.1" y="514.4" width="1.4" height="1.4" fill="#fff"/><rect x="1837.4" y="514.4" width="1.4" height="1.4" fill="#fff"/><rect x="1830.8" y="517.8" width="1.4" height="1.4" fill="#fff"/><rect x="1834.1" y="517.8" width="1.4" height="1.4" fill="#fff"/><rect x="1837.4" y="517.8" width="1.4" height="1.4" fill="#fff"/><rect x="1830.8" y="521.1999999999999" width="1.4" height="1.4" fill="#fff"/><rect x="1834.1" y="521.1999999999999" width="1.4" height="1.4" fill="#fff"/><rect x="1837.4" y="521.1999999999999" width="1.4" height="1.4" fill="#fff"/></g><circle cx="1837.7" cy="521.9" r="12.1" fill="none" stroke="#f23645" stroke-width="1.8"/></g><g><circle cx="1824.6" cy="521.9" r="12.9" fill="#fff"/><clipPath id="f2"><circle cx="1824.6" cy="521.9" r="10.0"/></clipPath><g clip-path="url(#f2)"><rect x="1814.6" y="511.9" width="20.0" height="20.0" fill="#f5f7fa"/><rect x="1814.6" y="511.9" width="20.0" height="3.8" fill="#ef5350"/><rect x="1814.6" y="520.1" width="20.0" height="4.200000000000001" fill="#ef5350"/><rect x="1814.6" y="527.5" width="20.0" height="4.700000000000001" fill="#ef5350"/><rect x="1814.6" y="511.9" width="13.2" height="12.4" fill="#1e88e5"/><rect x="1817.6999999999998" y="514.4" width="1.4" height="1.4" fill="#fff"/><rect x="1820.9999999999998" y="514.4" width="1.4" height="1.4" fill="#fff"/><rect x="1824.3" y="514.4" width="1.4" height="1.4" fill="#fff"/><rect x="1817.6999999999998" y="517.8" width="1.4" height="1.4" fill="#fff"/><rect x="1820.9999999999998" y="517.8" width="1.4" height="1.4" fill="#fff"/><rect x="1824.3" y="517.8" width="1.4" height="1.4" fill="#fff"/><rect x="1817.6999999999998" y="521.1999999999999" width="1.4" height="1.4" fill="#fff"/><rect x="1820.9999999999998" y="521.1999999999999" width="1.4" height="1.4" fill="#fff"/><rect x="1824.3" y="521.1999999999999" width="1.4" height="1.4" fill="#fff"/></g><circle cx="1824.6" cy="521.9" r="12.1" fill="none" stroke="#f23645" stroke-width="1.8"/></g><g><circle cx="1798.7" cy="521.9" r="12.9" fill="#fff"/><clipPath id="f1"><circle cx="1798.7" cy="521.9" r="10.0"/></clipPath><g clip-path="url(#f1)"><rect x="1788.7" y="511.9" width="20.0" height="20.0" fill="#f5f7fa"/><rect x="1788.7" y="511.9" width="20.0" height="3.8" fill="#ef5350"/><rect x="1788.7" y="520.1" width="20.0" height="4.200000000000001" fill="#ef5350"/><rect x="1788.7" y="527.5" width="20.0" height="4.700000000000001" fill="#ef5350"/><rect x="1788.7" y="511.9" width="13.2" height="12.4" fill="#1e88e5"/><rect x="1791.8" y="514.4" width="1.4" height="1.4" fill="#fff"/><rect x="1795.1" y="514.4" width="1.4" height="1.4" fill="#fff"/><rect x="1798.4" y="514.4" width="1.4" height="1.4" fill="#fff"/><rect x="1791.8" y="517.8" width="1.4" height="1.4" fill="#fff"/><rect x="1795.1" y="517.8" width="1.4" height="1.4" fill="#fff"/><rect x="1798.4" y="517.8" width="1.4" height="1.4" fill="#fff"/><rect x="1791.8" y="521.1999999999999" width="1.4" height="1.4" fill="#fff"/><rect x="1795.1" y="521.1999999999999" width="1.4" height="1.4" fill="#fff"/><rect x="1798.4" y="521.1999999999999" width="1.4" height="1.4" fill="#fff"/></g><circle cx="1798.7" cy="521.9" r="12.1" fill="none" stroke="#f23645" stroke-width="1.8"/></g><path d="M1811.73 486.30 A12.0 12.0 0 0 1 1791.41 498.51" fill="none" stroke="#9c27b0" stroke-width="1.8" stroke-linecap="round"/><path d="M1789.01 487.69 A12.0 12.0 0 0 1 1804.31 479.39" fill="none" stroke="#9c27b0" stroke-width="1.8" stroke-linecap="round"/><circle cx="1808.5" cy="482.3" r="3.1" fill="#f23645"/><path d="M1786.9 489.0 Q1788.1000000000001 494.1 1793.2 495.3 Q1788.1000000000001 496.5 1786.9 501.6 Q1785.7 496.5 1780.6000000000001 495.3 Q1785.7 494.1 1786.9 489.0Z" fill="#7c4dff"/><polygon points="1803.48,484.40 1794.95,491.35 1799.31,491.98 1795.77,497.92 1805.12,490.09 1800.70,489.65" fill="#9c27b0"/>
<rect x="1951.1" y="38" width="80.5" height="32" rx="4.5" fill="#fff" stroke="#f4f4f5" stroke-width="1.5"/>
<rect x="1951.1" y="543.7" width="80.5" height="31.4" rx="4.5" fill="#fff" stroke="#f4f4f5" stroke-width="1.5"/>
<path d="M1947 167.9H2026.4Q2028.9 167.9 2028.9 170.4V203.5Q2028.9 206 2026.4 206H1947Z" fill="#f23645"/>
<path d="M1947 727.2H2005.4Q2007.9 727.2 2007.9 729.7V745.7Q2007.9 748.2 2005.4 748.2H1947Z" fill="#ec407a"/>
<path d="M15 1061.1H30V1079.8H21.7V1068.7H15Z" fill="#131722"/><circle cx="36" cy="1065" r="3.2" fill="#131722"/><path d="M42.8 1061.1H51.9L45.1 1079.8H36.3Z" fill="#131722"/>
<g font-family="Liberation Sans, sans-serif" text-rendering="geometricPrecision" style="white-space:pre"><text id="title" x="12.20" y="24.90" font-size="15.6" letter-spacing="0.146" fill="#1e1e1e">kanguhalubale created with TradingView.com, Oct 14, 2025 08:26 UTC</text>
<text id="l1a" x="22.57" y="58.50" font-size="16.1" letter-spacing="-0.369" fill="#131722">Binance Coin / US Dollar · 1D · Binance</text>
<text id="l1o" x="301.78" y="58.50" font-size="16.1" fill="#131722">O</text>
<text id="l1ov" x="313.22" y="58.50" font-size="16.1" letter-spacing="-0.268" fill="#f23645">1,295.8</text>
<text id="l1h" x="372.80" y="58.50" font-size="16.1" fill="#131722">H</text>
<text id="l1hv" transform="translate(384.08 58.50) scale(0.9544 1)" font-size="16.1" letter-spacing="-0.450" fill="#f23645">1,319.7</text>
<text id="l1l" transform="translate(441.26 58.50) scale(0.8719 1)" font-size="16.1" fill="#131722">L</text>
<text id="l1lv" transform="translate(449.26 58.50) scale(0.9691 1)" font-size="16.1" letter-spacing="-0.450" fill="#f23645">1,182.0</text>
<text id="l1c" x="506.85" y="58.50" font-size="16.1" fill="#131722">C</text>
<text id="l1cv" transform="translate(517.73 58.50) scale(0.9230 1)" font-size="16.1" letter-spacing="-0.450" fill="#f23645">1,197.6</text>
<text id="l1ch" x="573.40" y="58.50" font-size="16.1" letter-spacing="-0.403" fill="#f23645">−98.1 (−7.57%)</text>
<text id="l2a" transform="translate(22.64 563.90) scale(0.9615 1)" font-size="16.1" letter-spacing="-0.450" fill="#131722">TOTAL</text>
<text id="l2a2" transform="translate(72.36 563.90) scale(1.3233 1)" font-size="16.1" fill="#131722">·</text>
<text id="l2a3" transform="translate(82.71 563.90) scale(0.9404 1)" font-size="16.1" letter-spacing="-0.450" fill="#131722">CRYPTOCAP</text>
<text id="l2o" transform="translate(180.99 563.90) scale(0.9905 1)" font-size="16.1" letter-spacing="-0.450" fill="#ec407a">3.89 T</text>
<text id="l2h" transform="translate(233.16 563.90) scale(0.9163 1)" font-size="16.1" letter-spacing="-0.450" fill="#ec407a">3.91 T</text>
<text id="l2l" transform="translate(282.14 563.90) scale(0.9402 1)" font-size="16.1" letter-spacing="-0.450" fill="#ec407a">3.72 T</text>
<text id="l2c" transform="translate(332.13 563.90) scale(0.9474 1)" font-size="16.1" letter-spacing="-0.450" fill="#ec407a">3.74 T</text>
<text id="l2ch" x="382.00" y="563.90" font-size="16.1" letter-spacing="-0.272" fill="#ec407a">−153.08 B (−3.93%)</text>
<text id="pa0" x="1957.76" y="107.50" font-size="15.6" letter-spacing="0.587" fill="#232733">1,400.0</text>
<text id="pa1" x="1957.76" y="222.80" font-size="15.6" letter-spacing="0.587" fill="#232733">1,100.0</text>
<text id="pa2" x="1956.48" y="279.70" font-size="15.6" letter-spacing="0.949" fill="#232733">980.0</text>
<text id="pa3" x="1956.48" y="320.00" font-size="15.6" letter-spacing="0.949" fill="#232733">900.0</text>
<text id="pa4" x="1956.48" y="361.50" font-size="15.6" letter-spacing="0.948" fill="#232733">825.0</text>
<text id="pa5" x="1956.61" y="410.60" font-size="15.6" letter-spacing="0.917" fill="#232733">745.0</text>
<text id="pa6" x="1956.46" y="451.20" font-size="15.6" letter-spacing="0.954" fill="#232733">685.0</text>
<text id="pa7" x="1956.46" y="494.70" font-size="15.6" letter-spacing="0.954" fill="#232733">625.0</text>
<text id="pa8" x="1956.43" y="534.60" font-size="15.6" letter-spacing="0.962" fill="#232733">575.0</text>
<text id="pb0" x="1956.86" y="610.70" font-size="15.6" letter-spacing="-0.197" fill="#232733">4.2 T</text>
<text id="pb1" transform="translate(1956.88 668.40) scale(0.9810 1)" font-size="15.6" letter-spacing="-0.450" fill="#232733">4 T</text>
<text id="pb2" x="1956.60" y="725.90" font-size="15.6" letter-spacing="-0.130" fill="#232733">3.8 T</text>
<text id="pb3" x="1956.60" y="783.70" font-size="15.6" letter-spacing="-0.130" fill="#232733">3.6 T</text>
<text id="pb4" x="1956.60" y="840.20" font-size="15.6" letter-spacing="-0.130" fill="#232733">3.4 T</text>
<text id="pb5" x="1956.60" y="898.00" font-size="15.6" letter-spacing="-0.130" fill="#232733">3.2 T</text>
<text id="pb6" transform="translate(1956.60 955.80) scale(0.9940 1)" font-size="15.6" letter-spacing="-0.450" fill="#232733">3 T</text>
<text id="usd1" x="1961.20" y="58.90" font-size="15.4" letter-spacing="-0.176" fill="#131722">USD</text>
<text id="usd2" x="1961.20" y="564.40" font-size="15.4" letter-spacing="-0.176" fill="#131722">USD</text>
<text id="pl1" x="1957.26" y="183.00" font-size="15.6" letter-spacing="0.663" fill="#ffffff">1,197.6</text>
<text id="pl2" x="1957.70" y="200.00" font-size="14.9" letter-spacing="0.936" fill="#ffdde0">15:33:14</text>
<text id="pl3" x="1956.90" y="743.20" font-size="15.6" letter-spacing="-0.075" fill="#ffffff">3.74 T</text>
<text id="m0" x="93.67" y="1022.90" font-size="16.1" font-weight="700" letter-spacing="-0.350" fill="#131722">Jun</text>
<text id="m1" x="472.68" y="1022.90" font-size="16.1" font-weight="700" letter-spacing="-0.350" fill="#131722">Jul</text>
<text id="m2" x="857.04" y="1022.90" font-size="16.1" font-weight="700" letter-spacing="-0.350" fill="#131722">Aug</text>
<text id="m3" x="1246.12" y="1022.90" font-size="16.1" font-weight="700" letter-spacing="-0.350" fill="#131722">Sep</text>
<text id="m4" x="1623.23" y="1022.90" font-size="16.1" font-weight="700" letter-spacing="-0.350" fill="#131722">Oct</text>
<text id="logo" transform="translate(60.59 1079.80) scale(0.9723 1)" font-size="27.2" font-weight="700" letter-spacing="-0.450" fill="#131722">TradingView</text></g>
</svg>
</body></html>
